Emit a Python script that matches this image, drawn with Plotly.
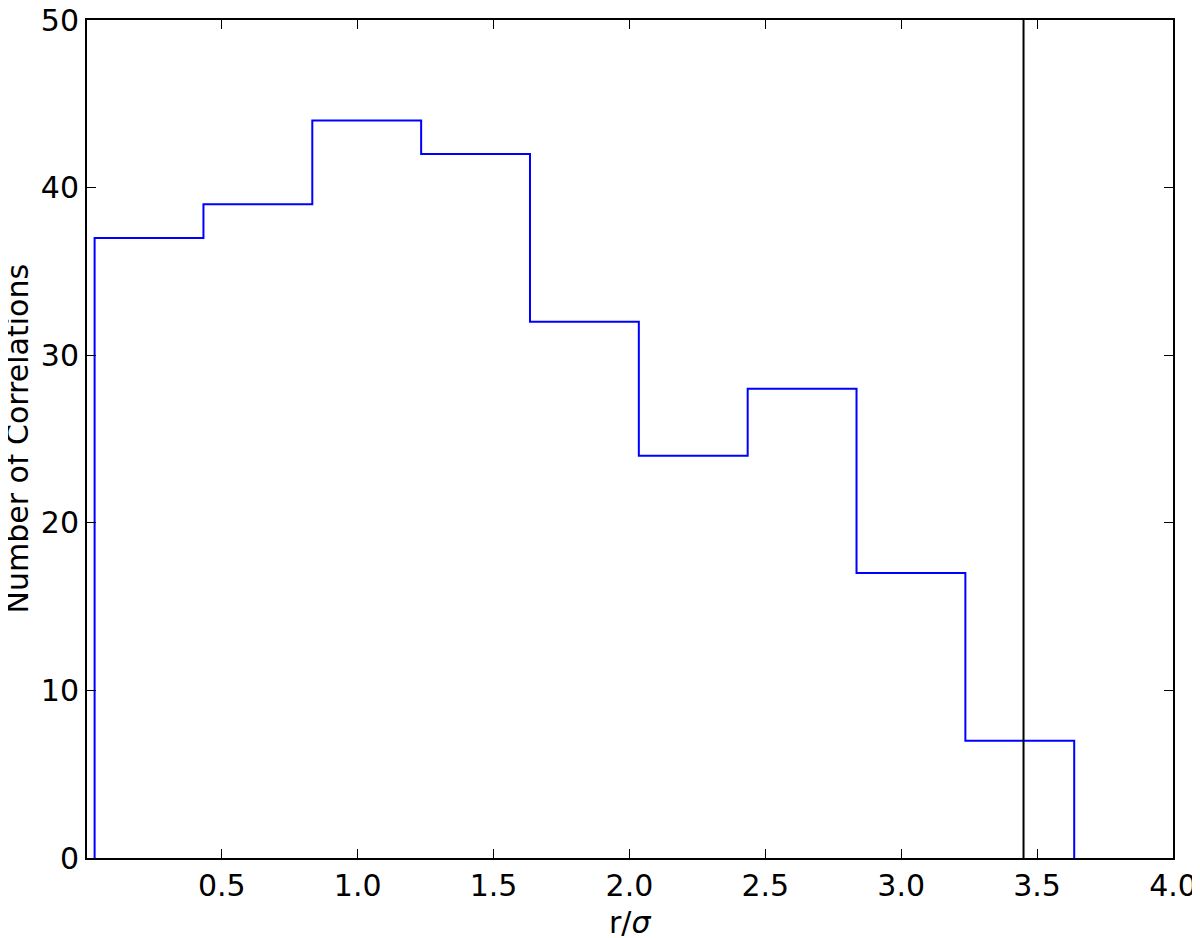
import plotly.graph_objects as go

# histogram bins (r/sigma) and counts per bin
bin_edges = [0.032, 0.4325, 0.833, 1.2335, 1.634, 2.0345, 2.435, 2.8355, 3.236, 3.6365]
counts = [37, 39, 44, 42, 32, 24, 28, 17, 7]
threshold = 3.45

x_ticks = [0.5, 1.0, 1.5, 2.0, 2.5, 3.0, 3.5, 4.0]
y_ticks = [0, 10, 20, 30, 40, 50]

x_label = "r/<i>σ</i>"
y_label = "Number of Correlations"

# outline of a step histogram
xs, ys = [bin_edges[0]], [0]
for i, c in enumerate(counts):
    xs += [bin_edges[i], bin_edges[i + 1]]
    ys += [c, c]
xs.append(bin_edges[-1])
ys.append(0)

fig = go.Figure()
fig.add_trace(
    go.Scatter(
        x=xs,
        y=ys,
        mode="lines",
        line=dict(color="#0000ff", width=2),
        showlegend=False,
        hoverinfo="skip",
    )
)
fig.add_trace(
    go.Scatter(
        x=[threshold, threshold],
        y=[0, 50],
        mode="lines",
        line=dict(color="black", width=2),
        showlegend=False,
        hoverinfo="skip",
    )
)

axis_common = dict(
    showline=True,
    linecolor="black",
    linewidth=2,
    mirror="ticks",
    ticks="inside",
    ticklen=9,
    tickwidth=1,
    tickcolor="black",
    showgrid=False,
    zeroline=False,
    automargin=False,
    ticklabeloverflow="allow",
    tickfont=dict(size=30, color="black"),
)

# axis titles as annotations so they can be placed exactly
fig.add_annotation(
    text=x_label, xref="paper", yref="paper", x=0.5, y=0,
    xanchor="center", yanchor="top", yshift=-45,
    showarrow=False, font=dict(size=30),
)
fig.add_annotation(
    text=y_label, xref="paper", yref="paper", x=0, y=0.5,
    xanchor="right", yanchor="middle", xshift=-51, textangle=-90,
    showarrow=False, font=dict(size=30),
)

# page body adds 8px offset, margins compensate for it
fig.update_layout(
    width=1200,
    height=938,
    margin=dict(l=79, r=35, t=12, b=88),
    paper_bgcolor="white",
    plot_bgcolor="white",
    font=dict(family="DejaVu Sans", color="black"),
    xaxis=dict(range=[0.004, 4.0], tickvals=x_ticks, tickformat=".1f", **axis_common),
    yaxis=dict(range=[0, 50], tickvals=y_ticks, **axis_common),
)

fig.write_html("out.html")
